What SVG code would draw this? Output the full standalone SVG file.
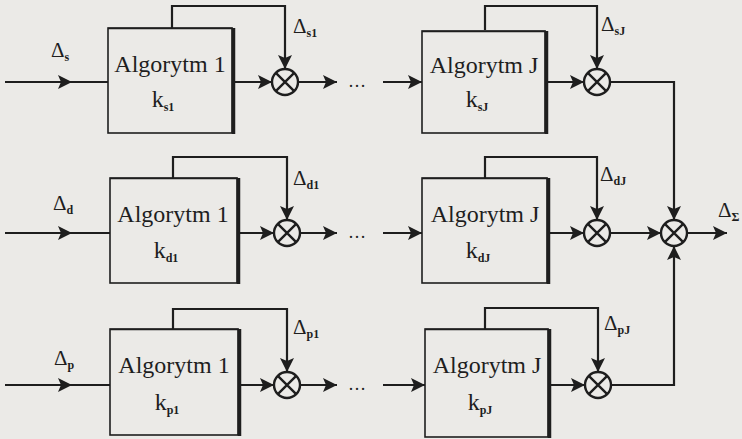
<svg xmlns="http://www.w3.org/2000/svg" width="742" height="439" viewBox="0 0 742 439">
<style>
.bg{fill:#ebeae7}
.ln{fill:none;stroke:#1e1e1e;stroke-width:2.2}
.box{fill:none;stroke:#1e1e1e;stroke-width:1.6}
.sh{fill:none;stroke:#1e1e1e;stroke-width:3.5}
.sum{fill:none;stroke:#1e1e1e;stroke-width:2.4}
.t{font-family:"Liberation Serif","DejaVu Serif",serif;font-size:24px;fill:#1e1e1e;text-anchor:middle}
.d{font-family:"Liberation Serif","DejaVu Serif",serif;font-size:21px;fill:#1e1e1e}
.sub{font-size:12px;font-weight:bold}
.dots{font-family:"Liberation Serif",serif;font-size:18px;fill:#1e1e1e;text-anchor:middle}
</style>
<defs>
<marker id="ah" markerUnits="userSpaceOnUse" markerWidth="16" markerHeight="14" refX="14" refY="7" orient="auto">
<path d="M0,0 L14,7 L0,14 L3,7 Z" fill="#1e1e1e"/>
</marker>
<g id="sumsym">
<circle r="13" class="sum"/>
<path d="M-9.2,-9.2 L9.2,9.2 M-9.2,9.2 L9.2,-9.2" class="sum"/>
</g>
</defs>
<rect class="bg" x="0" y="0" width="742" height="439"/>

<g id="connectors">
<!-- row s -->
<path class="ln" d="M5,82 H72" marker-end="url(#ah)"/>
<path class="ln" d="M70,82 H108"/>
<path class="ln" d="M232,82 H272" marker-end="url(#ah)"/>
<path class="ln" d="M172,28 V6 H285 V69" marker-end="url(#ah)"/>
<path class="ln" d="M298,82 H337" marker-end="url(#ah)"/>
<path class="ln" d="M383,82 H422" marker-end="url(#ah)"/>
<path class="ln" d="M545,82 H584" marker-end="url(#ah)"/>
<path class="ln" d="M485,30 V6 H597 V69" marker-end="url(#ah)"/>
<path class="ln" d="M610,82 H674 V220" marker-end="url(#ah)"/>
<!-- row d -->
<path class="ln" d="M5,233 H72" marker-end="url(#ah)"/>
<path class="ln" d="M70,233 H110"/>
<path class="ln" d="M237,233 H274" marker-end="url(#ah)"/>
<path class="ln" d="M173,178 V157 H287 V220" marker-end="url(#ah)"/>
<path class="ln" d="M300,233 H337" marker-end="url(#ah)"/>
<path class="ln" d="M383,233 H422" marker-end="url(#ah)"/>
<path class="ln" d="M547,233 H584" marker-end="url(#ah)"/>
<path class="ln" d="M485,178 V157 H597 V220" marker-end="url(#ah)"/>
<path class="ln" d="M610,233 H661" marker-end="url(#ah)"/>
<path class="ln" d="M687,233 H727" marker-end="url(#ah)"/>
<!-- row p -->
<path class="ln" d="M5,385 H72" marker-end="url(#ah)"/>
<path class="ln" d="M70,385 H110"/>
<path class="ln" d="M238,385 H274" marker-end="url(#ah)"/>
<path class="ln" d="M173,329 V309 H287 V372" marker-end="url(#ah)"/>
<path class="ln" d="M300,385 H337" marker-end="url(#ah)"/>
<path class="ln" d="M383,385 H425" marker-end="url(#ah)"/>
<path class="ln" d="M548,385 H585" marker-end="url(#ah)"/>
<path class="ln" d="M485,329 V308 H598 V372" marker-end="url(#ah)"/>
<path class="ln" d="M611,385 H674 V246" marker-end="url(#ah)"/>
</g>

<g id="dots">
<text class="dots" x="357" y="87">…</text>
<text class="dots" x="357" y="238">…</text>
<text class="dots" x="357" y="390">…</text>
</g>

<g id="box-s1">
<rect class="box" x="108" y="28" width="124" height="105"/>
<path class="sh" d="M233.5,28 V134"/>
<path class="box" d="M108,28.5 H233" stroke-width="2.4"/>
<text class="t" x="170" y="72">Algorytm 1</text>
<text class="t" x="163" y="107">k<tspan class="sub" dy="4">s1</tspan></text>
</g>
<g id="box-sJ">
<rect class="box" x="422" y="31" width="123" height="102"/>
<path class="sh" d="M546.5,31 V134"/>
<path class="box" d="M422,31.5 H546" stroke-width="2.4"/>
<text class="t" x="484" y="73">Algorytm J</text>
<text class="t" x="477" y="107">k<tspan class="sub" dy="4">sJ</tspan></text>
</g>
<g id="box-d1">
<rect class="box" x="110" y="178" width="127" height="105"/>
<path class="sh" d="M238.5,178 V284"/>
<path class="box" d="M110,178.5 H238" stroke-width="2.4"/>
<text class="t" x="173" y="222">Algorytm 1</text>
<text class="t" x="166" y="258">k<tspan class="sub" dy="4">d1</tspan></text>
</g>
<g id="box-dJ">
<rect class="box" x="422" y="178" width="125" height="105"/>
<path class="sh" d="M548.5,178 V284"/>
<path class="box" d="M422,178.5 H548" stroke-width="2.4"/>
<text class="t" x="485" y="222">Algorytm J</text>
<text class="t" x="478" y="258">k<tspan class="sub" dy="4">dJ</tspan></text>
</g>
<g id="box-p1">
<rect class="box" x="110" y="329" width="128" height="106"/>
<path class="sh" d="M239.5,329 V436"/>
<path class="box" d="M110,329.5 H239" stroke-width="2.4"/>
<text class="t" x="174" y="373">Algorytm 1</text>
<text class="t" x="167" y="410">k<tspan class="sub" dy="4">p1</tspan></text>
</g>
<g id="box-pJ">
<rect class="box" x="425" y="329" width="123" height="108"/>
<path class="sh" d="M549.5,329 V438"/>
<path class="box" d="M425,329.5 H549" stroke-width="2.4"/>
<text class="t" x="487" y="373">Algorytm J</text>
<text class="t" x="480" y="410">k<tspan class="sub" dy="4">pJ</tspan></text>
</g>

<g id="sum-s1"><use href="#sumsym" x="285" y="82"/></g>
<g id="sum-sJ"><use href="#sumsym" x="597" y="82"/></g>
<g id="sum-d1"><use href="#sumsym" x="287" y="233"/></g>
<g id="sum-dJ"><use href="#sumsym" x="597" y="233"/></g>
<g id="sum-p1"><use href="#sumsym" x="287" y="385"/></g>
<g id="sum-pJ"><use href="#sumsym" x="598" y="385"/></g>
<g id="sum-total"><use href="#sumsym" x="674" y="233"/></g>

<g id="labels">
<text class="d" x="51" y="57">Δ<tspan class="sub" dy="4">s</tspan></text>
<text class="d" x="53" y="210">Δ<tspan class="sub" dy="4">d</tspan></text>
<text class="d" x="54" y="365">Δ<tspan class="sub" dy="4">p</tspan></text>
<text class="d" x="293" y="33">Δ<tspan class="sub" dy="4">s1</tspan></text>
<text class="d" x="293" y="185">Δ<tspan class="sub" dy="4">d1</tspan></text>
<text class="d" x="293" y="334">Δ<tspan class="sub" dy="4">p1</tspan></text>
<text class="d" x="601" y="31">Δ<tspan class="sub" dy="4">sJ</tspan></text>
<text class="d" x="600" y="181">Δ<tspan class="sub" dy="4">dJ</tspan></text>
<text class="d" x="604" y="330">Δ<tspan class="sub" dy="4">pJ</tspan></text>
<text class="d" x="718" y="217">Δ<tspan class="sub" dy="4">Σ</tspan></text>
</g>
</svg>
